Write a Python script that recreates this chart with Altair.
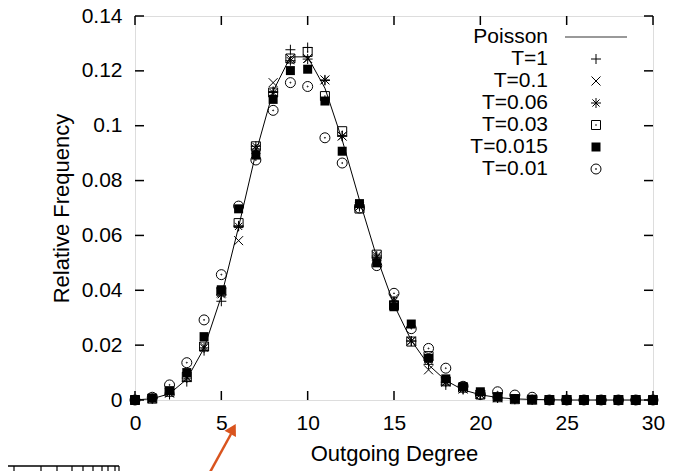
import altair as alt
import pandas as pd

# ---------------- data ----------------
degree = list(range(31))
poisson = [0.00005, 0.00045, 0.0023, 0.0076, 0.0189, 0.0378, 0.0631, 0.0901, 0.1126, 0.1251,
           0.1251, 0.1137, 0.0948, 0.0729, 0.0521, 0.0347, 0.0217, 0.0128, 0.0071, 0.0037,
           0.0019, 0.0009, 0.0004, 0.0002, 0.0001, 0, 0, 0, 0, 0, 0]
t_1 = [0, 0.0005, 0.002, 0.0067, 0.018, 0.036, 0.0635, 0.0915, 0.1125, 0.1277,
       0.1285, 0.1165, 0.0962, 0.071, 0.0525, 0.036, 0.0215, 0.013, 0.0055, 0.0038,
       0.0018, 0.0008, 0.0003, 0.0001, 0, 0, 0, 0, 0, 0, 0]
t_01 = [0, 0.0005, 0.0025, 0.0085, 0.0195, 0.039, 0.0581, 0.0915, 0.1157, 0.1245,
        0.1245, 0.1167, 0.0962, 0.0705, 0.0525, 0.037, 0.0215, 0.011, 0.0065, 0.004,
        0.002, 0.0008, 0.0003, 0.0001, 0, 0, 0, 0, 0, 0, 0]
t_006 = [0, 0.0005, 0.0025, 0.008, 0.019, 0.0384, 0.0633, 0.0925, 0.1121, 0.1237,
         0.1243, 0.1167, 0.0962, 0.0705, 0.052, 0.036, 0.0215, 0.0145, 0.0065, 0.004,
         0.002, 0.0008, 0.0003, 0.0001, 0, 0, 0, 0, 0, 0, 0]
t_003 = [0, 0.0005, 0.003, 0.0085, 0.0195, 0.0396, 0.0645, 0.0925, 0.1121, 0.1245,
         0.1269, 0.1108, 0.098, 0.0698, 0.053, 0.0345, 0.0213, 0.016, 0.0068, 0.0045,
         0.002, 0.001, 0.0003, 0.0001, 0, 0, 0, 0, 0, 0, 0]
t_0015 = [0, 0.0007, 0.0034, 0.01, 0.0231, 0.0402, 0.0697, 0.0893, 0.1096, 0.1201,
          0.1206, 0.109, 0.0907, 0.0716, 0.05, 0.034, 0.0277, 0.0152, 0.0077, 0.0049,
          0.003, 0.0012, 0.0005, 0.0002, 0, 0, 0, 0, 0, 0, 0]
t_001 = [0, 0.001, 0.0055, 0.0136, 0.0292, 0.0457, 0.0707, 0.0875, 0.1056, 0.1157,
         0.1143, 0.0956, 0.0864, 0.07, 0.049, 0.0389, 0.026, 0.0188, 0.0116, 0.005,
         0.002, 0.003, 0.0018, 0.001, 0, 0, 0, 0, 0, 0, 0]

series_labels = ["T=1", "T=0.1", "T=0.06", "T=0.03", "T=0.015", "T=0.01"]
series_values = [t_1, t_01, t_006, t_003, t_0015, t_001]
x_ticks = [0, 5, 10, 15, 20, 25, 30]
y_ticks = [0, 0.02, 0.04, 0.06, 0.08, 0.1, 0.12, 0.14]

# ---------------- styling ----------------
FONT = "Liberation Sans"
FS_TICK = 21
FS_TITLE = 22
FS_LEG = 21
W, H = 518, 384

PLUS = "M-1,0L1,0M0,-1L0,1"
CROSS = "M-1,-1L1,1M-1,1L1,-1"
STAR = "M-1,0L1,0M0,-1L0,1M-0.72,-0.72L0.72,0.72M-0.72,0.72L0.72,-0.72"
BOXDOT = "M-1,-1L1,-1L1,1L-1,1ZM-0.06,-0.06L0.06,-0.06L0.06,0.06L-0.06,0.06Z"
CIRCDOT = ("M1,0A1,1,0,1,1,-1,0A1,1,0,1,1,1,0Z"
           "M0.1,0A0.1,0.1,0,1,1,-0.1,0A0.1,0.1,0,1,1,0.1,0Z")
# (shape, filled, size)
styles = [(PLUS, False, 100), (CROSS, False, 81), (STAR, False, 100),
          (BOXDOT, False, 81), ("square", True, 81), (CIRCDOT, False, 100)]

xs = alt.Scale(domain=[0, 30], nice=False, zero=False)
ys = alt.Scale(domain=[0, 0.14], nice=False, zero=False)
xaxis = alt.Axis(values=x_ticks, ticks=False, domain=False, grid=False,
                 labelFont=FONT, labelFontSize=FS_TICK, labelColor="black",
                 labelPadding=12, labelFlush=False, labelOverlap=False,
                 titleFont=FONT, titleFontSize=FS_TITLE, titleFontWeight="normal",
                 titleColor="black", titlePadding=10)
yaxis = alt.Axis(values=y_ticks, format="~g", ticks=False, domain=False, grid=False,
                 labelFont=FONT, labelFontSize=FS_TICK, labelColor="black",
                 labelPadding=13, labelFlush=False, labelOverlap=False,
                 titleFont=FONT, titleFontSize=FS_TITLE, titleFontWeight="normal",
                 titleColor="black", titlePadding=8)
X = alt.X("k:Q", scale=xs, axis=xaxis, title="Outgoing Degree")
Y = alt.Y("v:Q", scale=ys, axis=yaxis, title="Relative Frequency")

layers = []

# Poisson line
df_line = pd.DataFrame({"k": degree, "v": poisson})
layers.append(alt.Chart(df_line).mark_line(color="black", strokeWidth=1).encode(x=X, y=Y))

# inward ticks (gnuplot style, mirrored)
df_xt = pd.DataFrame({"k": x_ticks})
df_yt = pd.DataFrame({"v": y_ticks})
tick_style = dict(color="black", strokeWidth=1.5)
layers.append(alt.Chart(df_xt).mark_rule(**tick_style).encode(x=X, y=alt.value(H), y2=alt.value(H - 9)))
layers.append(alt.Chart(df_xt).mark_rule(**tick_style).encode(x=X, y=alt.value(0), y2=alt.value(9)))
layers.append(alt.Chart(df_yt).mark_rule(**tick_style).encode(y=Y, x=alt.value(0), x2=alt.value(9)))
layers.append(alt.Chart(df_yt).mark_rule(**tick_style).encode(y=Y, x=alt.value(W), x2=alt.value(W - 9)))

# data points
for vals, (shape, filled, size) in zip(series_values, styles):
    df = pd.DataFrame({"k": degree, "v": vals})
    if filled:
        m = alt.Chart(df).mark_point(shape=shape, filled=True, size=size, color="black", opacity=1)
    else:
        m = alt.Chart(df).mark_point(shape=shape, filled=False, size=size, color="black",
                                     strokeWidth=1, opacity=1)
    layers.append(m.encode(x=X, y=Y))

# legend (gnuplot style: text right-aligned, sample on the right)
one = pd.DataFrame({"a": [0]})
LX_TEXT, LX_SYM, LY0, LDY = 413, 461, 21, 22
legend_labels = ["Poisson"] + series_labels
for i, lab in enumerate(legend_labels):
    y = LY0 + LDY * i
    layers.append(alt.Chart(one).mark_text(text=lab, align="right", baseline="middle",
                                           font=FONT, fontSize=FS_LEG, color="black")
                  .encode(x=alt.value(LX_TEXT), y=alt.value(y)))
layers.append(alt.Chart(one).mark_rule(color="#777777", strokeWidth=1.5)
              .encode(x=alt.value(430), x2=alt.value(492), y=alt.value(LY0)))
for i, (shape, filled, size) in enumerate(styles):
    y = LY0 + LDY * (i + 1)
    if filled:
        m = alt.Chart(one).mark_point(shape=shape, filled=True, size=size, color="black", opacity=1)
    else:
        m = alt.Chart(one).mark_point(shape=shape, filled=False, size=size, color="black",
                                      strokeWidth=1, opacity=1)
    layers.append(m.encode(x=alt.value(LX_SYM), y=alt.value(y)))

# orange annotation arrow below the axis
ORANGE = "#D9541E"
layers.append(alt.Chart(one).mark_rule(color=ORANGE, strokeWidth=2.5)
              .encode(x=alt.value(74), y=alt.value(458), x2=alt.value(96), y2=alt.value(418)))
layers.append(alt.Chart(one).mark_point(shape="triangle-up", filled=True, size=170,
                                        color=ORANGE, opacity=1, angle=29)
              .encode(x=alt.value(98), y=alt.value(413)))

# cropped fragment of another figure (bottom-left)
layers.append(alt.Chart(one).mark_rule(color="black", strokeWidth=1.5)
              .encode(x=alt.value(-127), x2=alt.value(-16), y=alt.value(450)))
frag_ticks = [-121, -94, -78, -63, -52, -42, -33, -27, -20, -16]
for fx in frag_ticks:
    layers.append(alt.Chart(one).mark_rule(color="black", strokeWidth=1.2)
                  .encode(x=alt.value(fx), y=alt.value(450), y2=alt.value(458)))

chart = alt.layer(*layers).properties(
    width=W, height=H,
    autosize=alt.AutoSizeParams(type="none"),
    padding={"left": 127, "top": 8, "right": 21, "bottom": 71},
).configure_view(stroke="black", strokeWidth=2).configure(background="white")

chart.save("out.html", embed_options={"renderer": "svg", "actions": False})
